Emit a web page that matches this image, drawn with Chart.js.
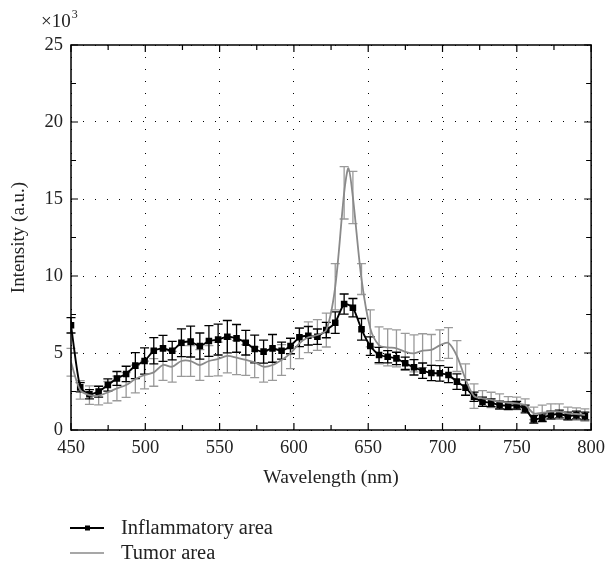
<!DOCTYPE html>
<html>
<head>
<meta charset="utf-8">
<script src="https://cdn.jsdelivr.net/npm/chart.js@4.4.1/dist/chart.umd.min.js"></script>
<style>
  html, body { margin: 0; padding: 0; background: #fff; }
  #wrap { width: 612px; height: 561px; }
</style>
</head>
<body>
<div id="wrap"><canvas id="spectrumChart" width="612" height="561"></canvas></div>
<script>
// wavelengths (nm) of the inflammatory points
const inflamWl = [450.0, 456.2, 462.4, 468.6, 474.8, 480.9, 487.1, 493.3, 499.5, 505.7,
    511.9, 518.1, 524.3, 530.5, 536.7, 542.8, 549.0, 555.2, 561.4, 567.6,
    573.6, 579.6, 585.6, 591.7, 597.7, 603.7, 609.7, 615.8, 621.8, 627.8,
    633.8, 639.7, 645.5, 651.4, 657.3, 663.1, 669.0, 674.9, 680.8, 686.6,
    692.5, 698.2, 704.0, 709.7, 715.5, 721.2, 726.9, 732.7, 738.4, 744.2,
    749.9, 755.6, 761.4, 767.1, 772.9, 778.6, 784.3, 790.1, 795.8];
// intensity x10^3
const inflamVal = [6.80, 2.77, 2.32, 2.49, 2.92, 3.35, 3.64, 4.18, 4.48, 5.15,
    5.30, 5.15, 5.67, 5.74, 5.45, 5.78, 5.87, 6.06, 5.95, 5.67,
    5.26, 5.09, 5.30, 5.15, 5.45, 6.02, 6.12, 6.06, 6.49, 6.97,
    8.18, 7.94, 6.54, 5.45, 4.87, 4.76, 4.65, 4.33, 4.07, 3.85,
    3.70, 3.68, 3.57, 3.14, 2.75, 2.16, 1.84, 1.77, 1.62, 1.58,
    1.60, 1.36, 0.69, 0.80, 0.97, 1.04, 0.91, 0.97, 0.91];
const inflamErr = [0.50, 0.30, 0.30, 0.35, 0.40, 0.45, 0.50, 0.85, 0.85, 0.85,
    0.85, 0.60, 0.90, 1.00, 0.85, 1.00, 1.00, 1.05, 0.90, 0.80,
    0.90, 0.75, 0.90, 0.55, 0.50, 0.60, 0.60, 0.50, 0.50, 0.70,
    0.65, 0.60, 0.70, 0.60, 0.50, 0.40, 0.40, 0.40, 0.50, 0.50,
    0.50, 0.50, 0.50, 0.50, 0.50, 0.30, 0.30, 0.25, 0.25, 0.25,
    0.25, 0.25, 0.25, 0.25, 0.25, 0.25, 0.25, 0.25, 0.25];

// tumor curve (one extra point at the top of the peak, no bar there)
const tumorWl = [450.0, 456.2, 462.4, 468.6, 474.8, 480.9, 487.1, 493.3, 499.5, 505.7,
    511.9, 518.1, 524.3, 530.5, 536.7, 542.8, 549.0, 555.2, 561.4, 567.6,
    573.6, 579.6, 585.6, 591.7, 597.7, 603.7, 609.7, 615.8, 621.8, 627.8,
    633.8, 636.7, 639.7, 645.5, 651.4, 657.3, 663.1, 669.0, 674.9, 680.8, 686.6,
    692.5, 698.2, 704.0, 709.7, 715.5, 721.2, 726.9, 732.7, 738.4, 744.2,
    749.9, 755.6, 761.4, 767.1, 772.9, 778.6, 784.3, 790.1, 795.8];
const tumorVal = [4.40, 2.60, 2.27, 2.23, 2.45, 2.70, 2.92, 3.31, 3.57, 3.74,
    4.22, 4.11, 4.48, 4.48, 4.22, 4.48, 4.61, 4.81, 4.70, 4.55,
    4.40, 4.11, 4.22, 4.55, 4.98, 5.63, 6.02, 6.17, 6.49, 9.30,
    15.4, 17.0, 15.1, 9.80, 6.60, 5.50, 5.37, 5.30, 5.08, 4.98, 5.15,
    5.20, 5.50, 5.65, 4.80, 3.30, 2.20, 2.06, 1.95, 1.84, 1.77,
    1.73, 1.62, 1.08, 1.12, 1.19, 1.19, 1.08, 1.04, 0.97];
const tumorErr = [0.90, 0.60, 0.60, 0.60, 0.70, 0.80, 0.80, 0.90, 0.90, 0.90,
    1.00, 1.00, 1.00, 1.00, 1.00, 1.00, 1.10, 1.10, 1.10, 1.00,
    1.00, 1.00, 1.00, 1.00, 1.00, 1.00, 1.00, 1.00, 1.10, 1.50,
    1.70, null, 1.70, 1.00, 1.20, 1.20, 1.20, 1.20, 1.20, 1.20, 1.10,
    1.00, 1.00, 1.00, 1.00, 1.00, 0.80, 0.50, 0.50, 0.50, 0.40,
    0.40, 0.40, 0.40, 0.50, 0.50, 0.50, 0.40, 0.40, 0.40];

const xTicks = [450, 500, 550, 600, 650, 700, 750, 800];
const yTicks = [0, 5, 10, 15, 20, 25];

const FONT = '"Liberation Serif", "DejaVu Serif", serif';
const GREY = '#8a8a8a';
const GREY_BAR = '#9a9a9a';

function pts(xs, ys) {
    return xs.map((x, i) => ({ x: x, y: ys[i] }));
}

// error bars, frame, inward ticks, x10^3 label and legend
const decor = {
    id: 'decor',
    beforeDatasetsDraw(chart) {
        const c = chart.ctx;
        const xs = chart.scales.x, ys = chart.scales.y;
        const bars = [[tumorWl, tumorVal, tumorErr, GREY_BAR], [inflamWl, inflamVal, inflamErr, '#000']];
        c.save();
        c.lineWidth = 1.3;
        bars.forEach(([wl, val, err, col]) => {
            c.strokeStyle = col;
            wl.forEach((w, i) => {
                if (err[i] == null) return;
                const px = xs.getPixelForValue(w);
                const top = ys.getPixelForValue(val[i] + err[i]);
                const bot = ys.getPixelForValue(Math.max(0, val[i] - err[i]));
                c.beginPath();
                c.moveTo(px, top); c.lineTo(px, bot);
                c.moveTo(px - 4.5, top); c.lineTo(px + 4.5, top);
                c.moveTo(px - 4.5, bot); c.lineTo(px + 4.5, bot);
                c.stroke();
            });
        });
        c.restore();
    },
    afterDraw(chart) {
        const c = chart.ctx;
        const a = chart.chartArea;
        const xs = chart.scales.x, ys = chart.scales.y;
        c.save();
        c.strokeStyle = '#000';
        c.lineWidth = 1.5;
        c.strokeRect(a.left, a.top, a.right - a.left, a.bottom - a.top);

        c.lineWidth = 1.2;
        c.beginPath();
        for (let v = 450; v <= 800; v += 25) {
            const px = xs.getPixelForValue(v);
            const len = v % 50 === 0 ? 7 : 5;
            c.moveTo(px, a.bottom); c.lineTo(px, a.bottom - len);
            c.moveTo(px, a.top); c.lineTo(px, a.top + len);
        }
        for (let v = 0; v <= 25; v += 2.5) {
            const py = ys.getPixelForValue(v);
            const len = v % 5 === 0 ? 7 : 5;
            c.moveTo(a.left, py); c.lineTo(a.left + len, py);
            c.moveTo(a.right, py); c.lineTo(a.right - len, py);
        }
        c.stroke();

        c.fillStyle = '#222';
        c.font = '19px ' + FONT;
        c.textBaseline = 'alphabetic';
        c.textAlign = 'left';
        c.fillText('\u00d710', 41, 27);
        const w = c.measureText('\u00d710').width;
        c.font = '12px ' + FONT;
        c.fillText('3', 41 + w + 1, 18);

        // legend
        const ly = [528, 553];
        c.font = '20.5px ' + FONT;
        c.textBaseline = 'middle';
        c.lineWidth = 2;
        c.strokeStyle = '#000';
        c.beginPath(); c.moveTo(70, ly[0]); c.lineTo(104, ly[0]); c.stroke();
        c.fillStyle = '#000';
        c.fillRect(85, ly[0] - 2.5, 5, 5);
        c.strokeStyle = GREY;
        c.lineWidth = 1.5;
        c.beginPath(); c.moveTo(70, ly[1]); c.lineTo(104, ly[1]); c.stroke();
        c.fillStyle = '#222';
        c.fillText(chart.data.datasets[1].label, 121, ly[0] + 1);
        c.fillText(chart.data.datasets[0].label, 121, ly[1] + 1);
        c.restore();
    }
};

const gridOpts = { color: '#000', lineWidth: 1, drawTicks: false };
const borderOpts = { display: false, dash: [1, 11] };

const ctx = document.getElementById('spectrumChart').getContext('2d');
const spectrumChart = new Chart(ctx, {
    type: 'line',
    data: {
        datasets: [{
            label: 'Tumor area',
            data: pts(tumorWl, tumorVal),
            borderColor: GREY,
            borderWidth: 1.8,
            pointRadius: 0,
            tension: 0.3
        }, {
            label: 'Inflammatory area',
            data: pts(inflamWl, inflamVal),
            borderColor: '#000',
            backgroundColor: '#000',
            borderWidth: 1.9,
            pointStyle: 'rect',
            pointRadius: 3.3,
            tension: 0.2
        }]
    },
    options: {
        responsive: false,
        animation: false,
        layout: { padding: { left: 0, top: 45, right: 16, bottom: 70 } },
        plugins: { legend: { display: false }, tooltip: { enabled: false } },
        scales: {
            x: {
                type: 'linear',
                min: 450, max: 800,
                afterBuildTicks: s => { s.ticks = xTicks.map(v => ({ value: v })); },
                afterFit: s => { s.height = 61; },
                border: borderOpts,
                grid: gridOpts,
                ticks: { color: '#222', padding: 7, font: { family: FONT, size: 18.5 } },
                title: { display: true, text: 'Wavelength (nm)', color: '#222',
                    font: { family: FONT, size: 19.5 }, padding: { top: 0, bottom: 1 } }
            },
            y: {
                min: 0, max: 25,
                afterBuildTicks: s => { s.ticks = yTicks.map(v => ({ value: v })); },
                afterFit: s => { s.width = 71; },
                border: borderOpts,
                grid: gridOpts,
                ticks: { color: '#222', padding: 8, font: { family: FONT, size: 18.5 } },
                title: { display: true, text: 'Intensity (a.u.)', color: '#222',
                    font: { family: FONT, size: 19 }, padding: { top: 8, bottom: 0 } }
            }
        }
    },
    plugins: [decor]
});
</script>
</body>
</html>
